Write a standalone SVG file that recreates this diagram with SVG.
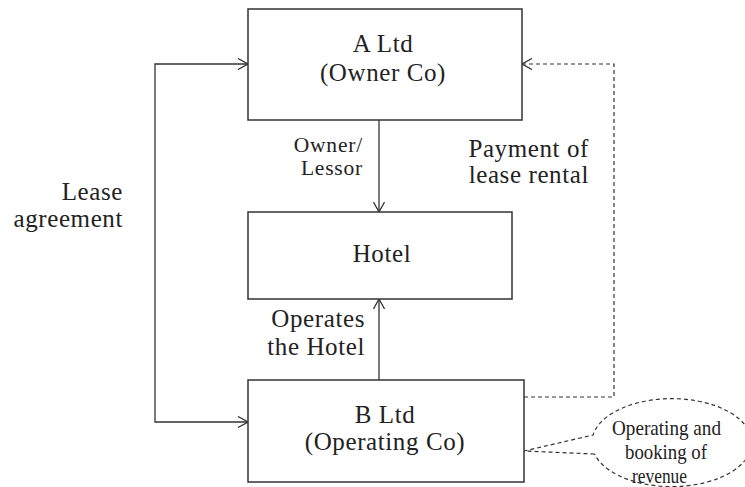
<svg xmlns="http://www.w3.org/2000/svg" width="745" height="487" viewBox="0 0 745 487">
<style>
.box{fill:#fff;stroke:#333;stroke-width:1.5}
.ln{fill:none;stroke:#333;stroke-width:1.3}
.dash{fill:none;stroke:#333;stroke-width:1.2;stroke-dasharray:4 3}
.t{font-family:"Liberation Serif","Times New Roman",serif;font-size:25px;letter-spacing:0.6px;fill:#222}
.s{font-family:"Liberation Serif","Times New Roman",serif;font-size:21.5px;letter-spacing:0.8px;fill:#222}
.c{font-family:"Liberation Serif","Times New Roman",serif;font-size:21px;fill:#222}
.m{text-anchor:middle}
.e{text-anchor:end}
</style>
<defs>
<marker id="arr" viewBox="0 0 12 12" refX="11" refY="6" markerWidth="12" markerHeight="12" markerUnits="userSpaceOnUse" orient="auto-start-reverse">
<path d="M1,0.5 L11,6 L1,11.5" fill="none" stroke="#333" stroke-width="1.3"/>
</marker>
</defs>
<rect width="745" height="487" fill="#fff"/>
<g id="connectors">
<path class="ln" d="M248,64 H155 V422 H248" marker-start="url(#arr)" marker-end="url(#arr)"/>
<path class="ln" d="M379,120 V212" marker-end="url(#arr)"/>
<path class="ln" d="M379,380 V299" marker-end="url(#arr)"/>
<path class="dash" d="M524,397 H614 V64 H522" marker-end="url(#arr)"/>
<path class="dash" d="M594.5,454 L524,451 L593,435 A80,44 0 1 1 594.5,454"/>
</g>
<g id="a-ltd">
<rect class="box" x="248" y="9" width="274" height="111"/>
<text class="t m" x="383" y="52">A Ltd</text>
<text class="t m" x="383" y="81">(Owner Co)</text>
</g>
<g id="hotel">
<rect class="box" x="248" y="212" width="264" height="87"/>
<text class="t m" x="382" y="262">Hotel</text>
</g>
<g id="b-ltd">
<rect class="box" x="248" y="380" width="276" height="102"/>
<text class="t m" x="385" y="423">B Ltd</text>
<text class="t m" x="385" y="450">(Operating Co)</text>
</g>
<g id="labels">
<text class="s e" x="363" y="152">Owner/</text>
<text class="s e" x="363" y="175">Lessor</text>
<text class="t e" x="589" y="157">Payment of</text>
<text class="t e" x="589" y="183">lease rental</text>
<text class="t e" x="123" y="200">Lease</text>
<text class="t e" x="123" y="227">agreement</text>
<text class="t e" x="365" y="327">Operates</text>
<text class="t e" x="365" y="355">the Hotel</text>
</g>
<g id="callout">
<text class="c" x="612" y="435" textLength="109" lengthAdjust="spacingAndGlyphs">Operating and</text>
<text class="c" x="625" y="459" textLength="82" lengthAdjust="spacingAndGlyphs">booking of</text>
<text class="c" x="632" y="483" textLength="55" lengthAdjust="spacingAndGlyphs">revenue</text>
</g>
</svg>
